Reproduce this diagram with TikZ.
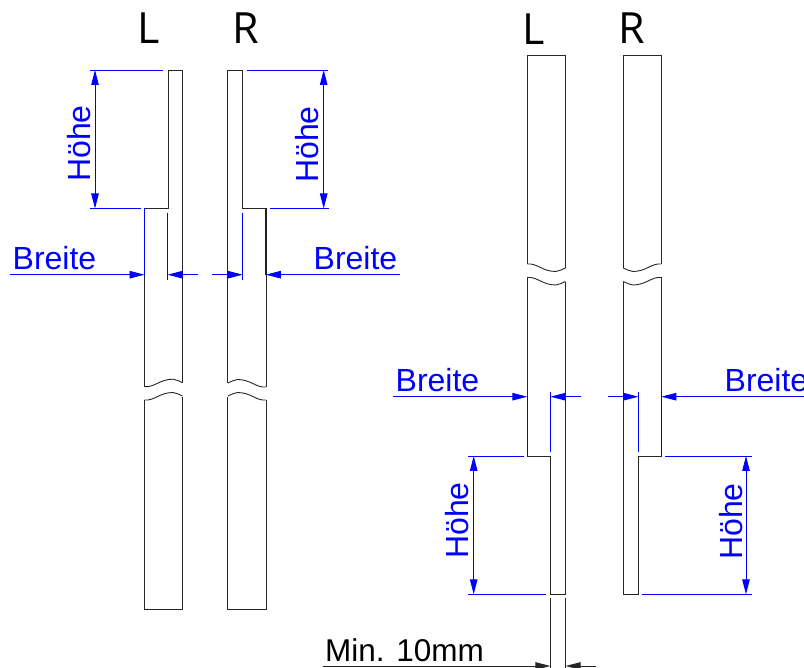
\documentclass[tikz,border=0pt]{standalone}
\usepackage{fontspec}
\setmainfont{Liberation Sans}
\newfontfamily\headfont{Open Sans}
\usetikzlibrary{arrows.meta}
\tikzset{
  part/.style={draw=black!85,line width=0.9pt,line join=miter},
  dimline/.style={draw=blue,line width=0.9pt},
  dimarrow/.style={dimline,-{Triangle[length=15pt,width=7.5pt]}},
  dimdouble/.style={dimline,{Triangle[length=15pt,width=7.5pt]}-{Triangle[length=15pt,width=7.5pt]}},
  minline/.style={draw=black!85,line width=0.9pt},
  minarrow/.style={minline,-{Triangle[length=15pt,width=7.5pt]}},
  dimtext/.style={text=blue,font=\fontsize{32}{36}\selectfont,inner sep=0pt,anchor=base west},
  mintext/.style={text=black,font=\fontsize{31.5}{36}\selectfont,inner sep=0pt,anchor=base west},
  headtext/.style={text=black,font=\headfont\fontsize{43}{48}\selectfont,inner sep=0pt,anchor=base west},
}
\newcommand{\brk}[4]{\draw[part,shift={(#1,#2)},xscale=#3,yscale=#4]
  (0,0) .. controls (10,1) and (15,-7.5) .. (28.5,-7.5) .. controls (32,-7.5) and (35,-5) .. (38,-4);}
\begin{document}
\begin{tikzpicture}[x=1pt,y=-1pt]
\useasboundingbox (0,0) rectangle (804,668);
% ---------- left pair ----------
\draw[part] (144.5,386.7) -- (144.5,208.5) -- (168,208.5) -- (168,70) -- (182.5,70) -- (182.5,382.7);
\brk{144.5}{386.7}{1}{1}
\draw[part] (182.5,396.7) -- (182.5,609) -- (144.5,609) -- (144.5,400);
\brk{144.5}{400}{1}{1}
\draw[part] (266,387) -- (266,208.5) -- (242.7,208.5) -- (242.7,70) -- (227.7,70) -- (227.7,383);
\brk{266}{387}{-1}{1}
\draw[part] (227.7,396.7) -- (227.7,609) -- (266,609) -- (266,400);
\brk{266}{400}{-1}{1}
% ---------- right pair ----------
\draw[part] (527.3,264) -- (527.3,55) -- (565.6,55) -- (565.6,268);
\brk{527.3}{264}{1}{-1}
\draw[part] (565.6,281.7) -- (565.6,594.3) -- (550.4,594.3) -- (550.4,456) -- (527.3,456) -- (527.3,277.5);
\brk{527.3}{277.5}{1}{-1}
\draw[part] (661.3,264) -- (661.3,55) -- (623,55) -- (623,268);
\brk{661.3}{264}{-1}{-1}
\draw[part] (623,281.7) -- (623,594.3) -- (638.4,594.3) -- (638.4,456) -- (661.3,456) -- (661.3,277.5);
\brk{661.3}{277.5}{-1}{-1}
% ---------- headings ----------
\node[headtext] (hL1) at (137,44) {L};
\node[headtext] (hR1) at (232,44) {R};
\node[headtext] (hL2) at (522,45) {L};
\node[headtext] (hR2) at (618,44) {R};
% ---------- Hoehe, left pair ----------
\draw[dimline] (90,70) -- (163,70);
\draw[dimline] (90,208.5) -- (140.5,208.5);
\draw[dimdouble] (95,70) -- (95,208.5);
\node[dimtext,rotate=90] (h1) at (90,182) {Höhe};
\draw[dimline] (247,70) -- (328,70);
\draw[dimline] (269.7,208.5) -- (329,208.5);
\draw[dimdouble] (323.7,70) -- (323.7,208.5);
\node[dimtext,rotate=90] (h2) at (318,183) {Höhe};
% ---------- Breite, left pair ----------
\draw[dimline] (144.5,208.5) -- (144.5,275);
\draw[dimline] (167.5,212.7) -- (167.5,280);
\draw[dimline] (242.7,212.7) -- (242.7,280);
\draw[dimline] (265.8,208.5) -- (265.8,275);
\draw[dimarrow] (10,274.7) -- (144.5,274.7);
\draw[dimarrow] (198,274.7) -- (167.5,274.7);
\draw[dimarrow] (212,274.7) -- (242.7,274.7);
\draw[dimarrow] (400,274.7) -- (265.8,274.7);
\node[dimtext] (b1) at (12.5,270) {Breite};
\node[dimtext] (b2) at (313.5,270) {Breite};
% ---------- Breite, right pair ----------
\draw[dimline] (527.3,396.7) -- (527.3,456);
\draw[dimline] (550.4,391.7) -- (550.4,451.7);
\draw[dimline] (638.4,391.7) -- (638.4,451.7);
\draw[dimline] (661.3,392) -- (661.3,456);
\draw[dimarrow] (393,396.7) -- (527.3,396.7);
\draw[dimarrow] (580.7,396.7) -- (550.4,396.7);
\draw[dimarrow] (607.7,396.7) -- (638.4,396.7);
\draw[dimarrow] (804,396.7) -- (661.3,396.7);
\node[dimtext] (b3) at (395.5,392) {Breite};
\node[dimtext] (b4) at (724.5,392) {Breite};
% ---------- Hoehe, right pair ----------
\draw[dimline] (468,456) -- (524,456);
\draw[dimline] (468,594.3) -- (546,594.3);
\draw[dimdouble] (473.7,456) -- (473.7,594.3);
\node[dimtext,rotate=90] (h3) at (468,559) {Höhe};
\draw[dimline] (665,456) -- (751.7,456);
\draw[dimline] (642,594.3) -- (751.7,594.3);
\draw[dimdouble] (746,456) -- (746,594.3);
\node[dimtext,rotate=90] (h4) at (742,560) {Höhe};
% ---------- minimum width ----------
\draw[minline] (550.4,598) -- (550.4,668);
\draw[minline] (565.6,598) -- (565.6,668);
\draw[minarrow] (322.7,666) -- (550.4,666);
\draw[minarrow] (596,666) -- (565.6,666);
\node[mintext] (m) at (325,661) {Min. 10mm};
\end{tikzpicture}
\end{document}
